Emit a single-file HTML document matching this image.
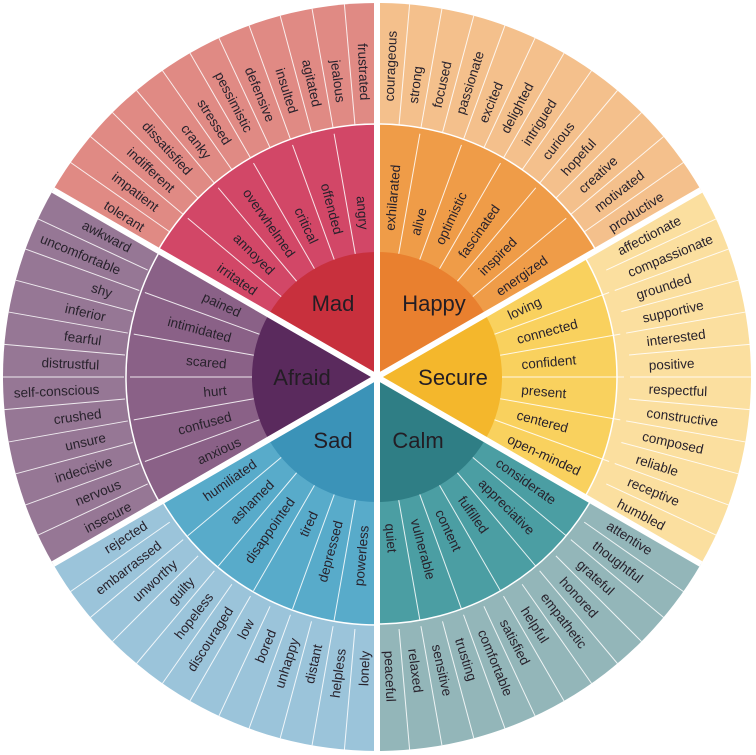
<!DOCTYPE html>
<html><head><meta charset="utf-8"><style>
html,body{margin:0;padding:0;background:#fff;width:756px;height:755px;overflow:hidden;}
svg{display:block;overflow:hidden;}
.o,.m{font-family:"Liberation Sans",sans-serif;font-size:13.5px;fill:#28222c;}
.c{font-family:"Liberation Sans",sans-serif;font-size:22px;fill:#231d24;text-anchor:middle;}
.s{text-anchor:start}.e{text-anchor:end}
</style></head><body>
<svg width="756" height="755" viewBox="0 0 756 755" xmlns="http://www.w3.org/2000/svg">
<defs>
<path id="pO" d="M377,377 L377,3 A374,374 0 0 1 700.9,190 Z"/>
</defs>
<use href="#pO" fill="#f4c08c"/>
<use href="#pO" fill="#fbdf9f" transform="rotate(60 377 377)"/>
<use href="#pO" fill="#93b6b9" transform="rotate(120 377 377)"/>
<use href="#pO" fill="#9bc4da" transform="rotate(180 377 377)"/>
<use href="#pO" fill="#967795" transform="rotate(240 377 377)"/>
<use href="#pO" fill="#e08a84" transform="rotate(300 377 377)"/>
<g stroke="#fff" stroke-width="1" stroke-opacity="0.85">
<g id="ol"><line x1="377" y1="124" x2="377" y2="3" transform="rotate(5 377 377)"/><line x1="377" y1="124" x2="377" y2="3" transform="rotate(10 377 377)"/><line x1="377" y1="124" x2="377" y2="3" transform="rotate(15 377 377)"/><line x1="377" y1="124" x2="377" y2="3" transform="rotate(20 377 377)"/><line x1="377" y1="124" x2="377" y2="3" transform="rotate(25 377 377)"/><line x1="377" y1="124" x2="377" y2="3" transform="rotate(30 377 377)"/><line x1="377" y1="124" x2="377" y2="3" transform="rotate(35 377 377)"/><line x1="377" y1="124" x2="377" y2="3" transform="rotate(40 377 377)"/><line x1="377" y1="124" x2="377" y2="3" transform="rotate(45 377 377)"/><line x1="377" y1="124" x2="377" y2="3" transform="rotate(50 377 377)"/><line x1="377" y1="124" x2="377" y2="3" transform="rotate(55 377 377)"/></g>
<use href="#ol" transform="rotate(60 377 377)"/>
<use href="#ol" transform="rotate(120 377 377)"/>
<use href="#ol" transform="rotate(180 377 377)"/>
<use href="#ol" transform="rotate(240 377 377)"/>
<use href="#ol" transform="rotate(300 377 377)"/>
</g>
<g stroke="#fff" stroke-width="1.5">
<path d="M377,377 L377,124 A253,253 0 0 1 596.1,250.5 Z" fill="#ef9c48"/>
<path d="M377,377 L377,137 A240,240 0 0 1 584.8,257 Z" fill="#f9d15e" transform="rotate(60 377 377)"/>
<path d="M377,377 L377,130 A247,247 0 0 1 590.9,253.5 Z" fill="#4b9ea3" transform="rotate(120 377 377)"/>
<path d="M377,377 L377,129 A248,248 0 0 1 591.8,253 Z" fill="#58abca" transform="rotate(180 377 377)"/>
<path d="M377,377 L377,126 A251,251 0 0 1 594.4,251.5 Z" fill="#8a6187" transform="rotate(240 377 377)"/>
<path d="M377,377 L377,124 A253,253 0 0 1 596.1,250.5 Z" fill="#d24767" transform="rotate(300 377 377)"/>
</g>
<g stroke="#fff" stroke-width="1" stroke-opacity="0.85">
<g id="ml"><line x1="377" y1="252" x2="377" y2="130" transform="rotate(10 377 377)"/><line x1="377" y1="252" x2="377" y2="130" transform="rotate(20 377 377)"/><line x1="377" y1="252" x2="377" y2="130" transform="rotate(30 377 377)"/><line x1="377" y1="252" x2="377" y2="130" transform="rotate(40 377 377)"/><line x1="377" y1="252" x2="377" y2="130" transform="rotate(50 377 377)"/></g>
<use href="#ml" transform="rotate(60 377 377)"/>
<use href="#ml" transform="rotate(120 377 377)"/>
<use href="#ml" transform="rotate(180 377 377)"/>
<use href="#ml" transform="rotate(240 377 377)"/>
<use href="#ml" transform="rotate(300 377 377)"/>
</g>
<g>
<path d="M377,377 L377,252 A125,125 0 0 1 485.3,314.5 Z" fill="#e9802f"/>
<path d="M377,377 L377,252 A125,125 0 0 1 485.3,314.5 Z" fill="#f4b72c" transform="rotate(60 377 377)"/>
<path d="M377,377 L377,252 A125,125 0 0 1 485.3,314.5 Z" fill="#2f7e85" transform="rotate(120 377 377)"/>
<path d="M377,377 L377,252 A125,125 0 0 1 485.3,314.5 Z" fill="#3b93b8" transform="rotate(180 377 377)"/>
<path d="M377,377 L377,252 A125,125 0 0 1 485.3,314.5 Z" fill="#5a2a5d" transform="rotate(240 377 377)"/>
<path d="M377,377 L377,252 A125,125 0 0 1 485.3,314.5 Z" fill="#c8303d" transform="rotate(300 377 377)"/>
</g>
<g stroke="#fff" stroke-width="6">
<line x1="377" y1="377" x2="377" y2="3"/>
<line x1="377" y1="377" x2="377" y2="3" transform="rotate(60 377 377)"/>
<line x1="377" y1="377" x2="377" y2="3" transform="rotate(120 377 377)"/>
<line x1="377" y1="377" x2="377" y2="3" transform="rotate(180 377 377)"/>
<line x1="377" y1="377" x2="377" y2="3" transform="rotate(240 377 377)"/>
<line x1="377" y1="377" x2="377" y2="3" transform="rotate(300 377 377)"/>
</g>
<text class="c" x="333" y="311">Mad</text>
<text class="c" x="434" y="311">Happy</text>
<text class="c" x="453" y="385">Secure</text>
<text class="c" x="418" y="448">Calm</text>
<text class="c" x="333" y="448">Sad</text>
<text class="c" x="302" y="385">Afraid</text>

<g class="o s">
<text x="653" y="377" dy="0.35em" transform="rotate(-87.5 377 377)">courageous</text>
<text x="653" y="377" dy="0.35em" transform="rotate(-82.5 377 377)">strong</text>
<text x="653" y="377" dy="0.35em" transform="rotate(-77.5 377 377)">focused</text>
<text x="653" y="377" dy="0.35em" transform="rotate(-72.5 377 377)">passionate</text>
<text x="653" y="377" dy="0.35em" transform="rotate(-67.5 377 377)">excited</text>
<text x="653" y="377" dy="0.35em" transform="rotate(-62.5 377 377)">delighted</text>
<text x="653" y="377" dy="0.35em" transform="rotate(-57.5 377 377)">intrigued</text>
<text x="653" y="377" dy="0.35em" transform="rotate(-52.5 377 377)">curious</text>
<text x="653" y="377" dy="0.35em" transform="rotate(-47.5 377 377)">hopeful</text>
<text x="653" y="377" dy="0.35em" transform="rotate(-42.5 377 377)">creative</text>
<text x="653" y="377" dy="0.35em" transform="rotate(-37.5 377 377)">motivated</text>
<text x="653" y="377" dy="0.35em" transform="rotate(-32.5 377 377)">productive</text>
<text x="649" y="377" dy="0.35em" transform="rotate(-27.5 377 377)">affectionate</text>
<text x="649" y="377" dy="0.35em" transform="rotate(-22.5 377 377)">compassionate</text>
<text x="649" y="377" dy="0.35em" transform="rotate(-17.5 377 377)">grounded</text>
<text x="649" y="377" dy="0.35em" transform="rotate(-12.5 377 377)">supportive</text>
<text x="649" y="377" dy="0.35em" transform="rotate(-7.5 377 377)">interested</text>
<text x="649" y="377" dy="0.35em" transform="rotate(-2.5 377 377)">positive</text>
<text x="649" y="377" dy="0.35em" transform="rotate(2.5 377 377)">respectful</text>
<text x="649" y="377" dy="0.35em" transform="rotate(7.5 377 377)">constructive</text>
<text x="649" y="377" dy="0.35em" transform="rotate(12.5 377 377)">composed</text>
<text x="649" y="377" dy="0.35em" transform="rotate(17.5 377 377)">reliable</text>
<text x="649" y="377" dy="0.35em" transform="rotate(22.5 377 377)">receptive</text>
<text x="649" y="377" dy="0.35em" transform="rotate(27.5 377 377)">humbled</text>
<text x="651" y="377" dy="0.35em" transform="rotate(32.5 377 377)">attentive</text>
<text x="651" y="377" dy="0.35em" transform="rotate(37.5 377 377)">thoughtful</text>
<text x="651" y="377" dy="0.35em" transform="rotate(42.5 377 377)">grateful</text>
<text x="651" y="377" dy="0.35em" transform="rotate(47.5 377 377)">honored</text>
<text x="651" y="377" dy="0.35em" transform="rotate(52.5 377 377)">empathetic</text>
<text x="651" y="377" dy="0.35em" transform="rotate(57.5 377 377)">helpful</text>
<text x="651" y="377" dy="0.35em" transform="rotate(62.5 377 377)">satisfied</text>
<text x="651" y="377" dy="0.35em" transform="rotate(67.5 377 377)">comfortable</text>
<text x="651" y="377" dy="0.35em" transform="rotate(72.5 377 377)">trusting</text>
<text x="651" y="377" dy="0.35em" transform="rotate(77.5 377 377)">sensitive</text>
<text x="651" y="377" dy="0.35em" transform="rotate(82.5 377 377)">relaxed</text>
<text x="651" y="377" dy="0.35em" transform="rotate(87.5 377 377)">peaceful</text>
</g>
<g class="o e">
<text x="103" y="377" dy="0.35em" transform="rotate(272.5 377 377)">lonely</text>
<text x="103" y="377" dy="0.35em" transform="rotate(277.5 377 377)">helpless</text>
<text x="103" y="377" dy="0.35em" transform="rotate(282.5 377 377)">distant</text>
<text x="103" y="377" dy="0.35em" transform="rotate(287.5 377 377)">unhappy</text>
<text x="103" y="377" dy="0.35em" transform="rotate(292.5 377 377)">bored</text>
<text x="103" y="377" dy="0.35em" transform="rotate(297.5 377 377)">low</text>
<text x="103" y="377" dy="0.35em" transform="rotate(302.5 377 377)">discouraged</text>
<text x="103" y="377" dy="0.35em" transform="rotate(307.5 377 377)">hopeless</text>
<text x="103" y="377" dy="0.35em" transform="rotate(312.5 377 377)">guilty</text>
<text x="103" y="377" dy="0.35em" transform="rotate(317.5 377 377)">unworthy</text>
<text x="103" y="377" dy="0.35em" transform="rotate(322.5 377 377)">embarrassed</text>
<text x="103" y="377" dy="0.35em" transform="rotate(327.5 377 377)">rejected</text>
<text x="99" y="377" dy="0.35em" transform="rotate(332.5 377 377)">insecure</text>
<text x="99" y="377" dy="0.35em" transform="rotate(337.5 377 377)">nervous</text>
<text x="99" y="377" dy="0.35em" transform="rotate(342.5 377 377)">indecisive</text>
<text x="99" y="377" dy="0.35em" transform="rotate(347.5 377 377)">unsure</text>
<text x="99" y="377" dy="0.35em" transform="rotate(352.5 377 377)">crushed</text>
<text x="99" y="377" dy="0.35em" transform="rotate(357.5 377 377)">self-conscious</text>
<text x="99" y="377" dy="0.35em" transform="rotate(2.5 377 377)">distrustful</text>
<text x="99" y="377" dy="0.35em" transform="rotate(7.5 377 377)">fearful</text>
<text x="99" y="377" dy="0.35em" transform="rotate(12.5 377 377)">inferior</text>
<text x="99" y="377" dy="0.35em" transform="rotate(17.5 377 377)">shy</text>
<text x="99" y="377" dy="0.35em" transform="rotate(22.5 377 377)">uncomfortable</text>
<text x="99" y="377" dy="0.35em" transform="rotate(27.5 377 377)">awkward</text>
<text x="100" y="377" dy="0.35em" transform="rotate(32.5 377 377)">tolerant</text>
<text x="100" y="377" dy="0.35em" transform="rotate(37.5 377 377)">impatient</text>
<text x="100" y="377" dy="0.35em" transform="rotate(42.5 377 377)">indifferent</text>
<text x="100" y="377" dy="0.35em" transform="rotate(47.5 377 377)">dissatisfied</text>
<text x="100" y="377" dy="0.35em" transform="rotate(52.5 377 377)">cranky</text>
<text x="100" y="377" dy="0.35em" transform="rotate(57.5 377 377)">stressed</text>
<text x="100" y="377" dy="0.35em" transform="rotate(62.5 377 377)">pessimistic</text>
<text x="100" y="377" dy="0.35em" transform="rotate(67.5 377 377)">defensive</text>
<text x="100" y="377" dy="0.35em" transform="rotate(72.5 377 377)">insulted</text>
<text x="100" y="377" dy="0.35em" transform="rotate(77.5 377 377)">agitated</text>
<text x="100" y="377" dy="0.35em" transform="rotate(82.5 377 377)">jealous</text>
<text x="100" y="377" dy="0.35em" transform="rotate(87.5 377 377)">frustrated</text>
</g>
<g class="m s">
<text x="524" y="377" dy="0.35em" transform="rotate(-85 377 377)">exhilarated</text>
<text x="524" y="377" dy="0.35em" transform="rotate(-75 377 377)">alive</text>
<text x="524" y="377" dy="0.35em" transform="rotate(-65 377 377)">optimistic</text>
<text x="524" y="377" dy="0.35em" transform="rotate(-55 377 377)">fascinated</text>
<text x="524" y="377" dy="0.35em" transform="rotate(-45 377 377)">inspired</text>
<text x="524" y="377" dy="0.35em" transform="rotate(-35 377 377)">energized</text>
<text x="522" y="377" dy="0.35em" transform="rotate(-25 377 377)">loving</text>
<text x="522" y="377" dy="0.35em" transform="rotate(-15 377 377)">connected</text>
<text x="522" y="377" dy="0.35em" transform="rotate(-5 377 377)">confident</text>
<text x="522" y="377" dy="0.35em" transform="rotate(5 377 377)">present</text>
<text x="522" y="377" dy="0.35em" transform="rotate(15 377 377)">centered</text>
<text x="522" y="377" dy="0.35em" transform="rotate(25 377 377)">open-minded</text>
<text x="524" y="377" dy="0.35em" transform="rotate(35 377 377)">considerate</text>
<text x="524" y="377" dy="0.35em" transform="rotate(45 377 377)">appreciative</text>
<text x="524" y="377" dy="0.35em" transform="rotate(55 377 377)">fulfilled</text>
<text x="524" y="377" dy="0.35em" transform="rotate(65 377 377)">content</text>
<text x="524" y="377" dy="0.35em" transform="rotate(75 377 377)">vulnerable</text>
<text x="524" y="377" dy="0.35em" transform="rotate(85 377 377)">quiet</text>
</g>
<g class="m e">
<text x="228" y="377" dy="0.35em" transform="rotate(275 377 377)">powerless</text>
<text x="228" y="377" dy="0.35em" transform="rotate(285 377 377)">depressed</text>
<text x="228" y="377" dy="0.35em" transform="rotate(295 377 377)">tired</text>
<text x="228" y="377" dy="0.35em" transform="rotate(305 377 377)">disappointed</text>
<text x="228" y="377" dy="0.35em" transform="rotate(315 377 377)">ashamed</text>
<text x="228" y="377" dy="0.35em" transform="rotate(325 377 377)">humiliated</text>
<text x="226" y="377" dy="0.35em" transform="rotate(335 377 377)">anxious</text>
<text x="226" y="377" dy="0.35em" transform="rotate(345 377 377)">confused</text>
<text x="226" y="377" dy="0.35em" transform="rotate(355 377 377)">hurt</text>
<text x="226" y="377" dy="0.35em" transform="rotate(5 377 377)">scared</text>
<text x="226" y="377" dy="0.35em" transform="rotate(15 377 377)">intimidated</text>
<text x="226" y="377" dy="0.35em" transform="rotate(25 377 377)">pained</text>
<text x="229" y="377" dy="0.35em" transform="rotate(35 377 377)">irritated</text>
<text x="229" y="377" dy="0.35em" transform="rotate(45 377 377)">annoyed</text>
<text x="229" y="377" dy="0.35em" transform="rotate(55 377 377)">overwhelmed</text>
<text x="229" y="377" dy="0.35em" transform="rotate(65 377 377)">critical</text>
<text x="229" y="377" dy="0.35em" transform="rotate(75 377 377)">offended</text>
<text x="229" y="377" dy="0.35em" transform="rotate(85 377 377)">angry</text>
</g>
</svg>
</body></html>
